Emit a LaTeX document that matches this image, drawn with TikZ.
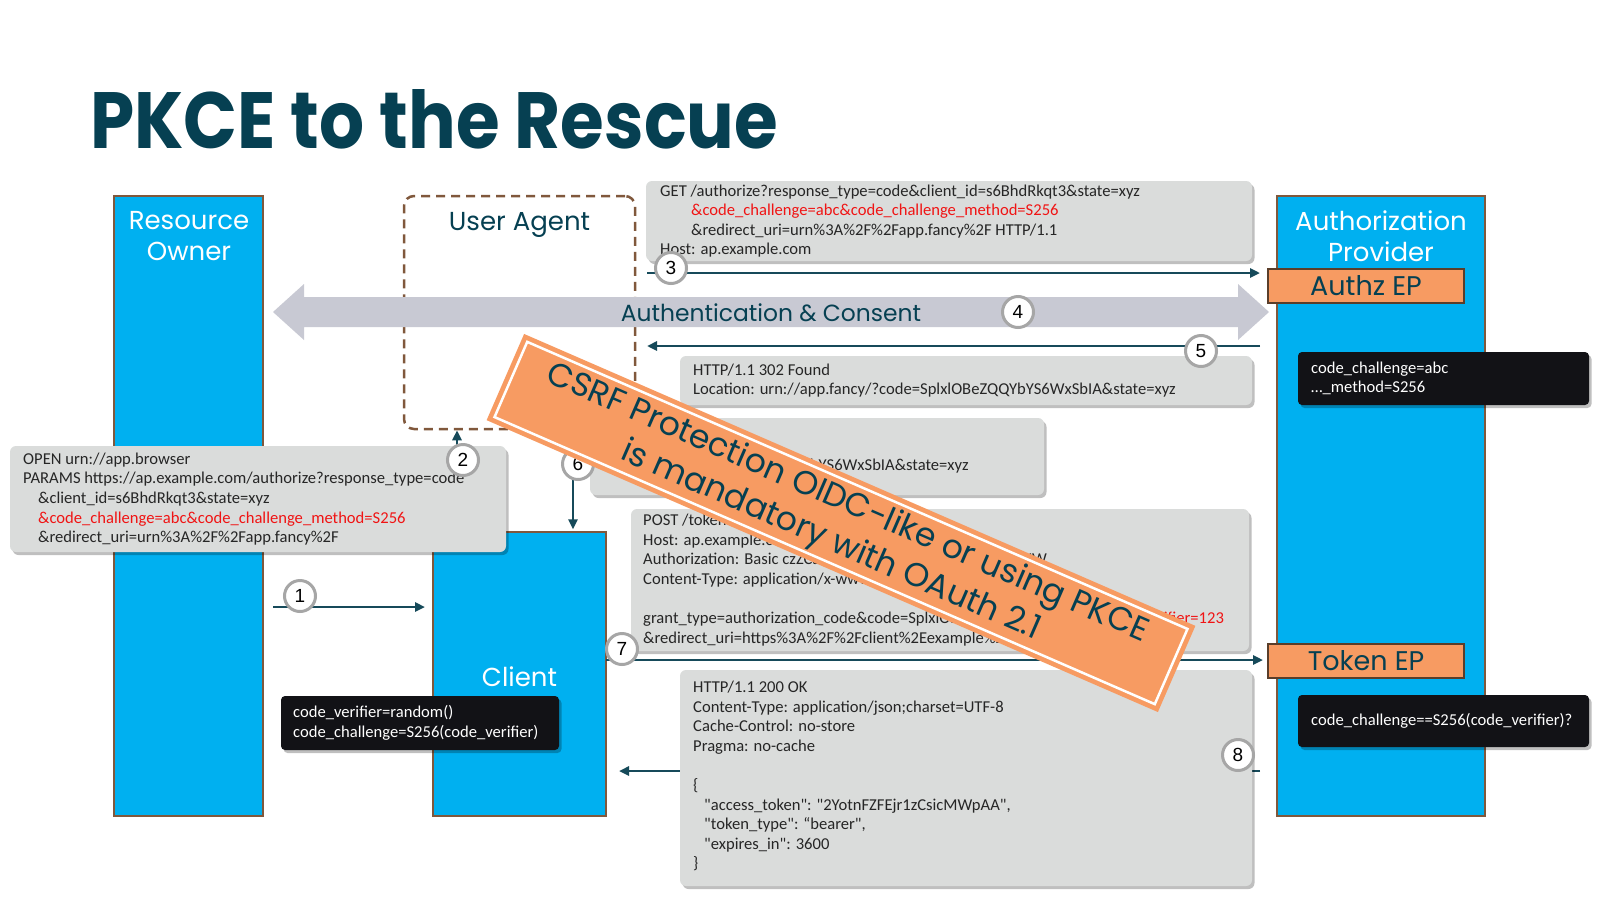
\documentclass[tikz,border=0pt]{standalone}
\usepackage{fontspec}
\usepackage{graphicx}
\setmainfont{Carlito}[Ligatures=TeXOff]
\newfontfamily\popf{Poppins}
\newfontfamily\numf{Liberation Sans}
\usetikzlibrary{arrows.meta,shadows,calc}
\definecolor{dteal}{RGB}{6,64,82}
\definecolor{arrc}{RGB}{22,74,90}
\definecolor{cyanb}{RGB}{0,176,240}
\definecolor{brownb}{RGB}{128,88,60}
\definecolor{grayb}{RGB}{218,220,219}
\definecolor{blackb}{RGB}{18,18,22}
\definecolor{orng}{RGB}{247,155,98}
\definecolor{bigarr}{RGB}{200,201,211}
\definecolor{circg}{RGB}{166,166,166}
\definecolor{redt}{RGB}{240,20,20}
\tikzset{
  col/.style={draw=brownb, line width=1.2pt, fill=cyanb, inner sep=0pt},
  lbl/.style={text=white, font=\popf\fontsize{26}{31}\selectfont, align=center, inner sep=0pt},
  eplbl/.style={draw=brownb!70!black, line width=1.2pt, fill=orng, text=dteal,
    font=\popf\fontsize{27}{30}\selectfont, minimum width=196pt, minimum height=34pt, inner sep=0pt},
  gbox/.style={fill=grayb, rounded corners=6pt, inner sep=0pt,
    drop shadow={shadow xshift=2.5pt, shadow yshift=-3pt, opacity=0.25, fill=black}},
  kbox/.style={fill=blackb, rounded corners=4pt, inner sep=0pt,
    drop shadow={shadow xshift=2.5pt, shadow yshift=-3pt, opacity=0.25, fill=black}},
  code/.style={font=\fontsize{16.6}{19.6}\selectfont, align=left, anchor=west, inner sep=0pt, text=black!85},
  wcode/.style={code, text=white},
  circ/.style={circle, draw=circg, line width=3pt, fill=white, minimum size=31pt, inner sep=0pt,
    font=\numf\fontsize{19}{19}\selectfont, text=black},
  flow/.style={draw=arrc, line width=2.5pt, -{Triangle[length=10pt,width=9pt]}},
}
\begin{document}
\begin{tikzpicture}[x=1pt,y=-1pt]
\useasboundingbox (0,0) rectangle (1600,900);
\fill[white] (0,0) rectangle (1600,900);

% title
\node[anchor=base west, text=dteal, inner sep=0pt] (title) at (90,148)
  {\resizebox{688pt}{59pt}{\popf\bfseries\fontsize{80}{80}\selectfont PKCE to the Rescue}};

% columns
\node[col, minimum width=149pt, minimum height=620pt] (ro) at (188.5,506) {};
\node[col, minimum width=208pt, minimum height=620pt] (ap) at (1381,506) {};
\node[col, minimum width=173pt, minimum height=284pt] (client) at (519.5,674) {};
\node[draw=brownb, line width=2.5pt, dash pattern=on 9pt off 6pt, rounded corners=10pt,
  minimum width=231pt, minimum height=233pt, inner sep=0pt] (ua) at (519.5,312.5) {};

\node[lbl] (rot) at (189,236) {Resource\\Owner};
\node[lbl] (apt) at (1381,236) {Authorization\\Provider};
\node[lbl, text=dteal] (uat) at (519.5,225) {User Agent};
\node[lbl] (clt) at (519.5,677) {Client};

% big double arrow
\fill[bigarr] (273,312) -- (304,284) -- (304,297) -- (1238,297) -- (1238,284) -- (1269,312)
  -- (1238,340) -- (1238,327) -- (304,327) -- (304,340) -- cycle;
\node[text=dteal, font=\popf\fontsize{23.4}{28}\selectfont, inner sep=0pt] (auth) at (771,313) {Authentication \& Consent};

% endpoints
\node[eplbl] (authz) at (1366,286) {Authz EP};
\node[eplbl] (token) at (1366,661) {Token EP};

% connectors
\coordinate (a1s) at (273,607);
\coordinate (a1e) at (425,607);
\coordinate (a3s) at (647,273);
\coordinate (a3e) at (1260,273);
\coordinate (a5s) at (1260,346);
\coordinate (a5e) at (647,346);
\coordinate (a7s) at (606,660);
\coordinate (a7e) at (1263,660);
\coordinate (a8s) at (1260,771);
\coordinate (a8e) at (619,771);
\coordinate (a2x) at (457,0);
\coordinate (a6x) at (573,0);
\draw[flow] (a1s) -- (a1e);
\draw[flow] (a3s) -- (a3e);
\draw[flow] (a5s) -- (a5e);
\draw[flow] (a7s) -- (a7e);
\draw[flow] (a8s) -- (a8e);
\draw[flow] (client.north -| a2x) -- (ua.south -| a2x);
\draw[flow] (ua.south -| a6x) -- ([yshift=2pt]client.north -| a6x);

% gray message boxes
\node[gbox, minimum width=606pt, minimum height=80pt] (b3) at (949,221) {};
\node[code] (b3t) at (660,221) {GET /authorize?response\_type=code\&client\_id=s6BhdRkqt3\&state=xyz\\
\hspace*{31pt}\textcolor{redt}{\&code\_challenge=abc\&code\_challenge\_method=S256}\\
\hspace*{31pt}\&redirect\_uri=urn\%3A\%2F\%2Fapp.fancy\%2F HTTP/1.1\\
Host: ap.example.com};

\node[gbox, minimum width=572pt, minimum height=49pt] (b5) at (966,380.5) {};
\node[code] (b5t) at (693,380.5) {HTTP/1.1 302 Found\\
Location: urn://app.fancy/?code=SplxlOBeZQQYbYS6WxSbIA\&state=xyz};

\node[gbox, minimum width=454pt, minimum height=77pt] (b6) at (817,456.5) {};
\node[code] (b6t) at (603,456.5) {OPEN urn://app.fancy/\\
PARAMS ?code=SplxlOBeZQQYbYS6WxSbIA\&state=xyz};

\node[gbox, minimum width=496pt, minimum height=106pt] (b2) at (258,499) {};
\node[code] (b2t) at (23,499) {OPEN urn://app.browser\\
PARAMS https://ap.example.com/authorize?response\_type=code\\
\hspace*{15pt}\&client\_id=s6BhdRkqt3\&state=xyz\\
\hspace*{15pt}\textcolor{redt}{\&code\_challenge=abc\&code\_challenge\_method=S256}\\
\hspace*{15pt}\&redirect\_uri=urn\%3A\%2F\%2Fapp.fancy\%2F};

\node[gbox, minimum width=618pt, minimum height=142pt] (b7) at (940,580) {};
\node[code] (b7t) at (643,580) {POST /token HTTP/1.1\\
Host: ap.example.com\\
Authorization: Basic czZCaGRSa3F0MzpnWDFmQmF0M2JW\\
Content-Type: application/x-www-form-urlencoded\\[19.6pt]
grant\_type=authorization\_code\&code=SplxlOBeZQQYbYS6WxSbIA\textcolor{redt}{\&code\_verifier=123}\\
\&redirect\_uri=https\%3A\%2F\%2Fclient\%2Eexample\%2Ecom\%2Fcb};

\node[gbox, minimum width=572pt, minimum height=216pt] (b8) at (966,778) {};
\node[code] (b8t) at (693,776) {HTTP/1.1 200 OK\\
Content-Type: application/json;charset=UTF-8\\
Cache-Control: no-store\\
Pragma: no-cache\\[19.6pt]
\{\\
\hspace*{11pt}"access\_token": "2YotnFZFEjr1zCsicMWpAA",\\
\hspace*{11pt}"token\_type": “bearer",\\
\hspace*{11pt}"expires\_in": 3600\\
\}};

% black notes
\node[kbox, minimum width=278pt, minimum height=54pt] (k1) at (420,723) {};
\node[wcode] (k1t) at (293,723) {code\_verifier=random()\\code\_challenge=S256(code\_verifier)};
\node[kbox, minimum width=291pt, minimum height=53pt] (k2) at (1443.5,378.5) {};
\node[wcode] (k2t) at (1311,378.5) {code\_challenge=abc\\…\_method=S256};
\node[kbox, minimum width=291pt, minimum height=52pt] (k3) at (1443.5,721) {};
\node[wcode] (k3t) at (1311,721) {code\_challenge==S256(code\_verifier)?};

% step circles
\node[circ] (c1) at (300,596) {1};
\node[circ] (c2) at (463,460) {2};
\node[circ] (c3) at (671,268) {3};
\node[circ] (c4) at (1018,312) {4};
\node[circ] (c5) at (1201,351) {5};
\node[circ] (c6) at (578,464) {6};
\node[circ] (c7) at (622,649) {7};
\node[circ] (c8) at (1238,755) {8};

% banner
\node[fill=orng, minimum width=732pt, minimum height=94pt, inner sep=0pt, rotate=-23.5] (ban) at (841,523) {};
\node[draw=white, line width=2.5pt, minimum width=720pt, minimum height=82pt, inner sep=0pt, rotate=-23.5] (banin) at (ban.center) {};
\node[rotate=-23.5, align=center, text=dteal, inner sep=0pt,
  font=\popf\fontsize{33}{41}\selectfont] (bant) at ([xshift=-2pt]ban.center)
  {CSRF Protection OIDC-like or using PKCE\\is mandatory with OAuth 2.1};
\end{tikzpicture}
\end{document}
